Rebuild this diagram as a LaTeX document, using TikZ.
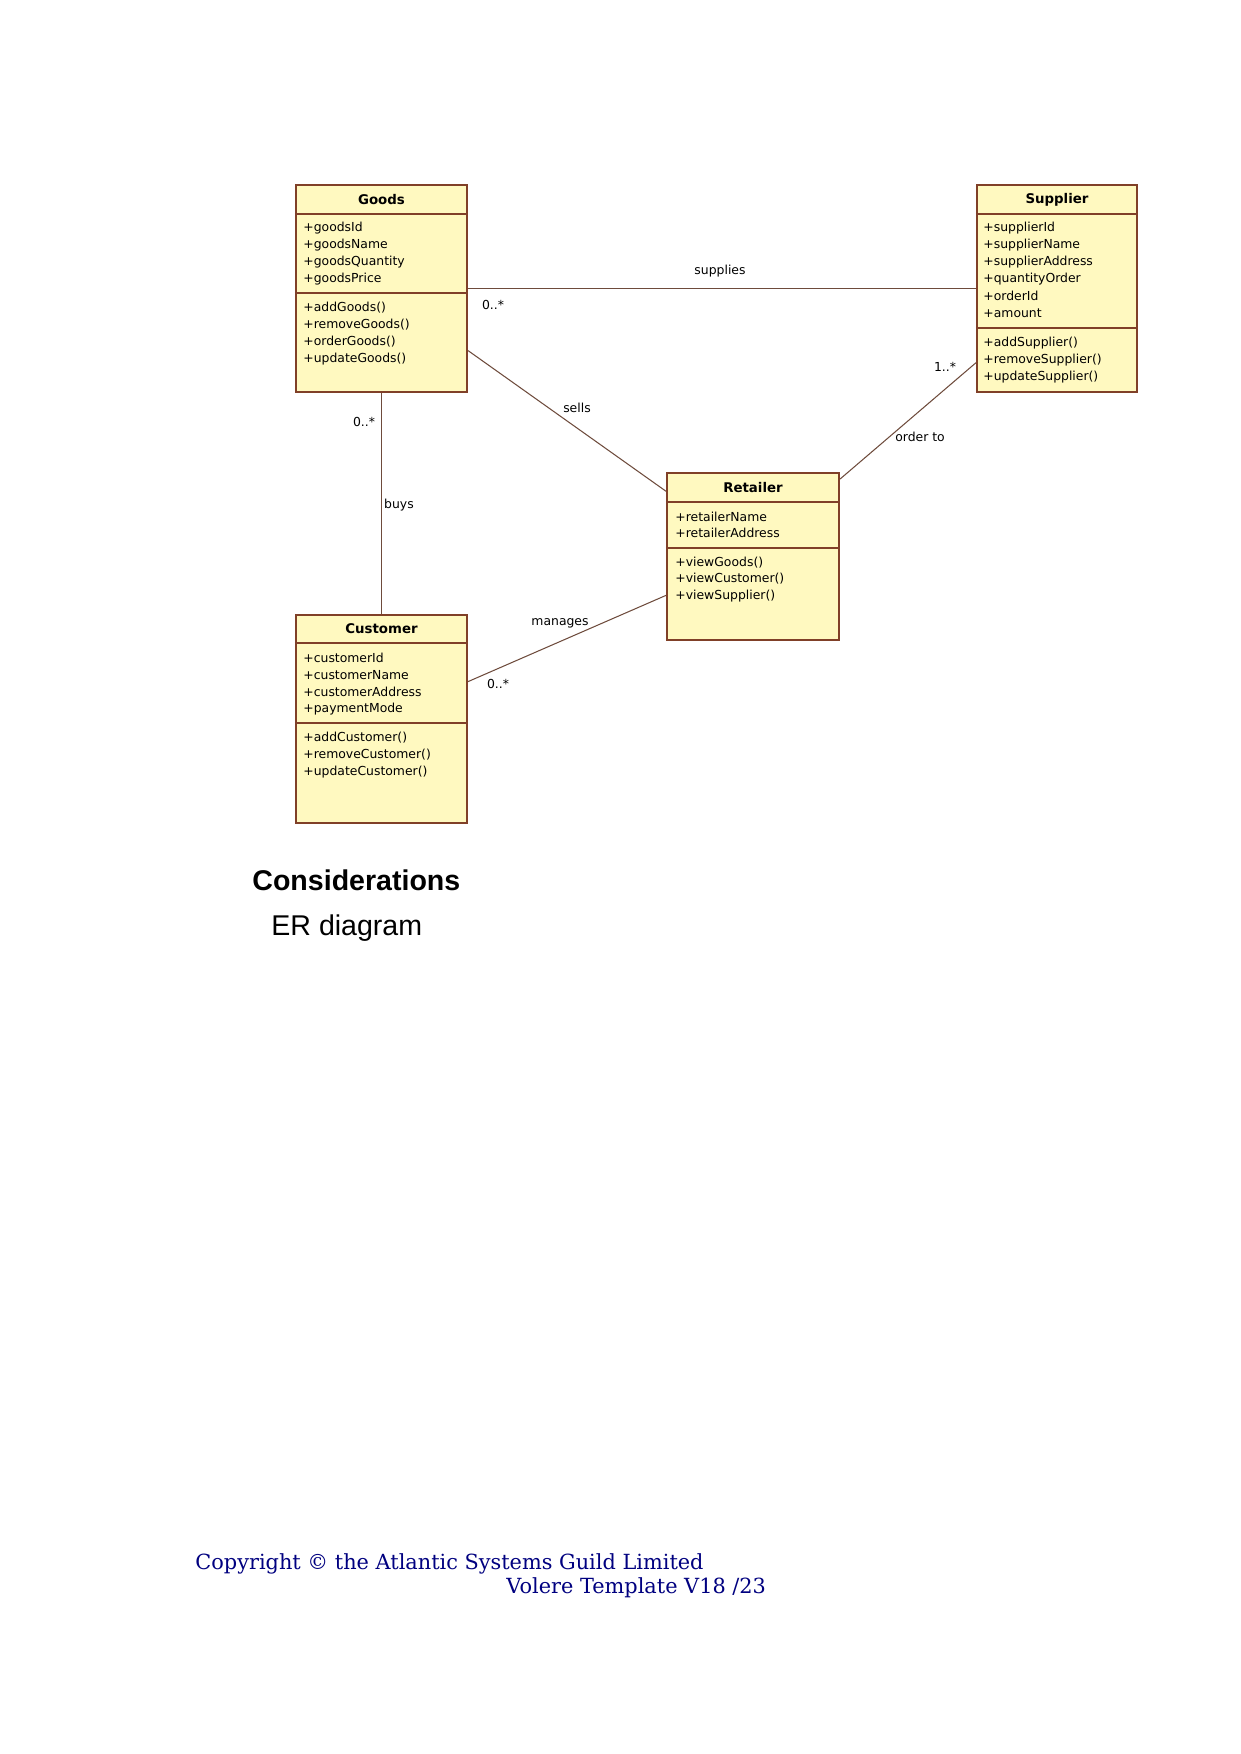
\documentclass[tikz,border=0pt]{standalone}
\usepackage{fontspec}
\setmainfont{DejaVu Sans}
\newfontfamily\umlfont{DejaVu Sans}
\newfontfamily\docsans{Liberation Sans}
\newfontfamily\docserif{DejaVu Serif}
\usetikzlibrary{calc}
\definecolor{classfill}{RGB}{255,249,192}
\definecolor{classline}{RGB}{128,64,40}
\definecolor{assocline}{RGB}{110,75,60}
\definecolor{footblue}{RGB}{0,0,128}
\begin{document}
\begin{tikzpicture}[x=0.4797pt,y=-0.4797pt,
 classbox/.style={draw=classline,fill=classfill,line width=1pt,inner sep=0pt},
 divider/.style={draw=classline,line width=1pt},
 member/.style={anchor=west,inner sep=0pt,font=\umlfont\fontsize{5.95}{7}\selectfont},
 classname/.style={inner sep=0pt,font=\umlfont\bfseries\fontsize{6.4}{7}\selectfont},
 assoc/.style={draw=assocline,line width=0.5pt},
 assoclabel/.style={inner sep=0pt,font=\umlfont\fontsize{5.95}{7}\selectfont}]
\useasboundingbox[fill=white] (0,0) rectangle (1241,1754);

% class boxes
\node[classbox,minimum width=82.03pt,minimum height=99.30pt] (goods) at (381.5,288.5) {};
\node[classbox,minimum width=76.75pt,minimum height=99.30pt] (supplier) at (1057,288.5) {};
\node[classbox,minimum width=82.5pt,minimum height=80.11pt] (retailer) at (753,556.5) {};
\node[classbox,minimum width=82.03pt,minimum height=99.78pt] (customer) at (381.5,719) {};

% associations
\draw[assoc] (goods.east) -- (supplier.west);
\draw[assoc] ($(goods.north east)!0.797!(goods.south east)$) -- ($(retailer.north west)!0.114!(retailer.south west)$);
\draw[assoc] ($(retailer.north east)!0.042!(retailer.south east)$) -- ($(supplier.north west)!0.855!(supplier.south west)$);
\draw[assoc] (goods.south) -- (customer.north);
\draw[assoc] ($(customer.north east)!0.322!(customer.south east)$) -- ($(retailer.north west)!0.73!(retailer.south west)$);

% association labels
\node[assoclabel] (lsupplies) at (720,271) {supplies};
\node[assoclabel] (msupplies) at (493,305) {0..*};
\node[assoclabel] (lsells) at (577,408) {sells};
\node[assoclabel] (morder) at (945,367) {1..*};
\node[assoclabel] (lorder) at (920,437) {order to};
\node[assoclabel] (mbuys) at (364,422) {0..*};
\node[assoclabel] (lbuys) at (399,505) {buys};
\node[assoclabel] (lmanages) at (560,623) {manages};
\node[assoclabel] (mmanages) at (498,684) {0..*};

% Goods
\draw[divider] (goods.west |- 0,214) -- (goods.east |- 0,214);
\draw[divider] (goods.west |- 0,293) -- (goods.east |- 0,293);
\node[classname] (gname) at (381.5,200) {Goods};
\node[member] (g1) at (303,228) {+goodsId};
\node[member] (g2) at (303,245) {+goodsName};
\node[member] (g3) at (303,262) {+goodsQuantity};
\node[member] (g4) at (303,279) {+goodsPrice};
\node[member] (g5) at (303,308) {+addGoods()};
\node[member] (g6) at (303,325) {+removeGoods()};
\node[member] (g7) at (303,342) {+orderGoods()};
\node[member] (g8) at (303,359) {+updateGoods()};

% Supplier
\draw[divider] (supplier.west |- 0,214) -- (supplier.east |- 0,214);
\draw[divider] (supplier.west |- 0,328) -- (supplier.east |- 0,328);
\node[classname] (sname) at (1057,200) {Supplier};
\node[member] (s1) at (983,228) {+supplierId};
\node[member] (s2) at (983,245) {+supplierName};
\node[member] (s3) at (983,262) {+supplierAddress};
\node[member] (s4) at (983,279) {+quantityOrder};
\node[member] (s5) at (983,296) {+orderId};
\node[member] (s6) at (983,313) {+amount};
\node[member] (s7) at (983,343) {+addSupplier()};
\node[member] (s8) at (983,360) {+removeSupplier()};
\node[member] (s9) at (983,377) {+updateSupplier()};

% Retailer
\draw[divider] (retailer.west |- 0,502) -- (retailer.east |- 0,502);
\draw[divider] (retailer.west |- 0,548) -- (retailer.east |- 0,548);
\node[classname] (rname) at (753,488) {Retailer};
\node[member] (r1) at (675,517) {+retailerName};
\node[member] (r2) at (675,533) {+retailerAddress};
\node[member] (r3) at (675,563) {+viewGoods()};
\node[member] (r4) at (675,579) {+viewCustomer()};
\node[member] (r5) at (675,596) {+viewSupplier()};

% Customer
\draw[divider] (customer.west |- 0,643) -- (customer.east |- 0,643);
\draw[divider] (customer.west |- 0,723) -- (customer.east |- 0,723);
\node[classname] (cname) at (381.5,629) {Customer};
\node[member] (c1) at (303,658) {+customerId};
\node[member] (c2) at (303,675) {+customerName};
\node[member] (c3) at (303,692) {+customerAddress};
\node[member] (c4) at (303,709) {+paymentMode};
\node[member] (c5) at (303,738) {+addCustomer()};
\node[member] (c6) at (303,755) {+removeCustomer()};
\node[member] (c7) at (303,772) {+updateCustomer()};

% document text
\node[anchor=base west,inner sep=0pt,font=\docsans\bfseries\fontsize{13.7}{16}\selectfont] (consid) at (252,890) {Considerations};
\node[anchor=base west,inner sep=0pt,font=\docsans\fontsize{13.7}{16}\selectfont] (erdiag) at (271,935) {ER diagram};
\node[anchor=base west,inner sep=0pt,text=footblue,font=\docserif\fontsize{10}{12}\selectfont] (copy) at (195,1569) {Copyright © the Atlantic Systems Guild Limited};
\node[anchor=base west,inner sep=0pt,text=footblue,font=\docserif\fontsize{10}{12}\selectfont] (volere) at (506,1593) {Volere Template V18 /23};
\end{tikzpicture}
\end{document}
